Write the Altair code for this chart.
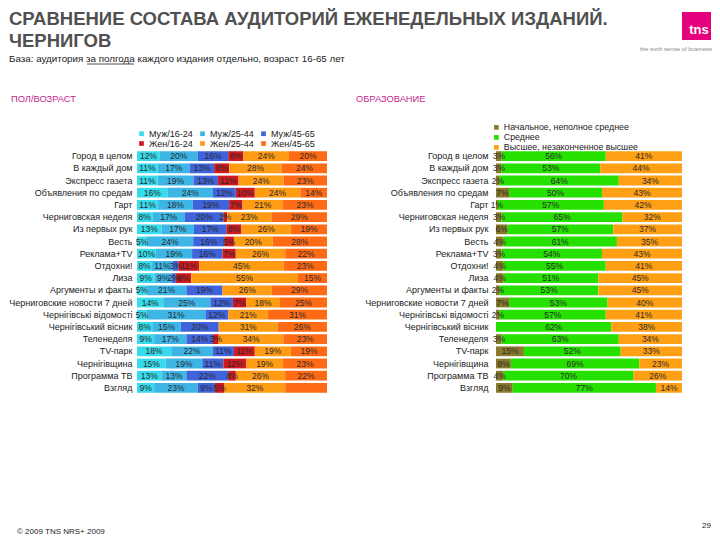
import altair as alt
import pandas as pd

rows = ["Город в целом", "В каждый дом", "Экспресс газета", "Объявления по средам", "Гарт",
        "Черниговская неделя", "Из первых рук", "Весть", "Реклама+TV", "Отдохни!", "Лиза",
        "Аргументы и факты", "Черниговские новости 7 дней", "Чернігівські відомості",
        "Чернігівський вісник", "Теленеделя", "TV-парк", "Чернігівщина", "Программа ТВ", "Взгляд"]

sa_names = ["Муж/16-24", "Муж/25-44", "Муж/45-65", "Жен/16-24", "Жен/25-44", "Жен/45-65"]
sa_colors = ["#36dcec", "#3db6e6", "#3f63da", "#d01a1f", "#ff9c14", "#ff6a14"]
m1624 = [12, 11, 11, 16, 11, 8, 13, 5, 10, 8, 9, 5, 14, 5, 8, 9, 18, 15, 13, 9]
m2544 = [20, 17, 19, 24, 18, 17, 17, 24, 19, 11, 9, 21, 25, 31, 15, 17, 22, 19, 13, 23]
m4565 = [16, 13, 13, 12, 19, 20, 17, 16, 16, 3, 2, 19, 12, 12, 20, 14, 11, 11, 22, 9]
f1624 = [8, 8, 11, 10, 7, 2, 8, 5, 7, 11, 8, 0, 7, 0, 0, 3, 11, 12, 4, 5]
f2544 = [24, 28, 24, 24, 21, 23, 26, 20, 26, 45, 55, 26, 18, 21, 31, 34, 19, 19, 26, 32]
f4565 = [20, 24, 23, 14, 23, 29, 19, 28, 22, 23, 15, 29, 25, 31, 26, 23, 19, 23, 22, 22]
sa_hidden = [("Взгляд", "Жен/45-65")]

edu_names = ["Начальное, неполное среднее", "Среднее", "Высшее, незаконченное высшее"]
edu_colors = ["#8a7a2c", "#26e000", "#ffa014"]
edu_low = [3, 3, 2, 7, 1, 3, 6, 4, 3, 4, 4, 2, 7, 2, 0, 3, 15, 8, 4, 9]
edu_mid = [56, 53, 64, 50, 57, 65, 57, 61, 54, 55, 51, 53, 53, 57, 62, 63, 52, 69, 70, 77]
edu_high = [41, 44, 34, 43, 42, 32, 37, 35, 43, 41, 45, 45, 40, 41, 38, 34, 33, 23, 26, 14]

FONT = "Liberation Sans"


def long_table(series_lists, names, hidden):
    recs = []
    for i, r in enumerate(rows):
        for k, (nm, vals) in enumerate(zip(names, series_lists)):
            v = vals[i]
            recs.append(dict(row=r, series=nm, order=k, value=v,
                             show=bool(v > 0 and (r, nm) not in hidden)))
    return pd.DataFrame(recs)


def panel(df, names, colors, legend, label_pad):
    base = (alt.Chart(df)
            .transform_joinaggregate(total="sum(value)", groupby=["row"])
            .transform_window(cum="sum(value)", sort=[alt.SortField("order", order="ascending")],
                              groupby=["row"], frame=[None, 0])
            .transform_calculate(x0="(datum.cum - datum.value) / datum.total",
                                 x1="datum.cum / datum.total",
                                 xm="(datum.cum - datum.value / 2) / datum.total",
                                 label="datum.value + '%'"))
    xs = alt.Scale(domain=[0, 1], nice=False, zero=True)
    y = alt.Y("row:N", sort=rows,
              scale=alt.Scale(paddingInner=0.2, paddingOuter=0.1),
              axis=alt.Axis(title=None, ticks=False, domain=False, labelFontSize=9,
                            labelColor="#222222", labelPadding=label_pad, labelLimit=300,
                            labelFont=FONT))
    bars = base.mark_bar(strokeWidth=0).encode(
        x=alt.X("x0:Q", scale=xs, axis=None),
        x2="x1:Q",
        y=y,
        color=alt.Color("series:N", scale=alt.Scale(domain=names, range=colors), legend=legend),
    )
    texts = base.transform_filter("datum.show").mark_text(
        fontSize=8.5, color="#2a2a2a", font=FONT).encode(
        x=alt.X("xm:Q", scale=xs, axis=None),
        y=alt.Y("row:N", sort=rows),
        text="label:N",
    )
    return bars, texts


dummy = pd.DataFrame({"a": [0]})


def txt(s, x, y, size, color="#222222", weight="normal", align="left", baseline="middle"):
    return alt.Chart(dummy).mark_text(fontSize=size, color=color, fontWeight=weight, align=align,
                                      baseline=baseline, font=FONT).encode(
        x=alt.value(x), y=alt.value(y), text=alt.value(s))


sa_df = long_table([m1624, m2544, m4565, f1624, f2544, f4565], sa_names, sa_hidden)
edu_df = long_table([edu_low, edu_mid, edu_high], edu_names, [])

LW, RW, H = 190, 186, 244

sa_legend = alt.Legend(title=None, orient="none", legendX=0, legendY=-21, direction="horizontal",
                       columns=3, symbolType="square", symbolSize=22, symbolStrokeWidth=0,
                       labelFontSize=9, labelOffset=3, columnPadding=5, rowPadding=-1,
                       labelColor="#222222", labelFont=FONT, padding=0)
edu_legend = alt.Legend(title=None, orient="none", legendX=-4, legendY=-27, direction="vertical",
                        columns=1, symbolType="square", symbolSize=22, symbolStrokeWidth=0,
                        labelFontSize=8.8, labelOffset=3, rowPadding=-2,
                        labelColor="#222222", labelFont=FONT, padding=0)

lb, lt = panel(sa_df, sa_names, sa_colors, sa_legend, 5)
rb, rt = panel(edu_df, edu_names, edu_colors, edu_legend, 8)

overlays = [
    txt("СРАВНЕНИЕ СОСТАВА АУДИТОРИЙ ЕЖЕНЕДЕЛЬНЫХ ИЗДАНИЙ.", -128, -125, 18.5, "#505050", "bold",
        baseline="alphabetic"),
    txt("ЧЕРНИГОВ", -128, -103, 18.5, "#505050", "bold", baseline="alphabetic"),
    txt("База: аудитория за полгода каждого издания отдельно, возраст 16-65 лет", -128, -91, 9.8),
    alt.Chart(dummy).mark_rule(color="#222222", strokeWidth=0.8).encode(
        x=alt.value(-50), x2=alt.value(-3), y=alt.value(-86)),
    txt("ПОЛ/ВОЗРАСТ", -126, -51, 9.3, "#c4258e"),
    txt("ОБРАЗОВАНИЕ", 219, -51, 9.3, "#c4258e"),
    alt.Chart(dummy).mark_rect(color="#e5007d").encode(
        x=alt.value(545), x2=alt.value(574), y=alt.value(-138), y2=alt.value(-110)),
    txt("tns", 562, -120, 13, "#ffffff", "bold", align="center"),
    txt("the sixth sense of business", 575, -101, 6, "#8a8a8a", align="right"),
    txt("© 2009 TNS  NRS+ 2009", -120, 382, 8),
    txt("29", 574, 376, 8, align="right"),
]

left = alt.layer(lb, lt, *overlays).properties(width=LW, height=H)
right = alt.layer(rb, rt).properties(width=RW, height=H)

chart = (alt.hconcat(left, right, spacing=169, bounds="flush")
         .resolve_scale(color="independent")
         .properties(padding={"top": 2, "left": 0, "right": 0, "bottom": 0})
         .configure(font=FONT)
         .configure_view(stroke=None))

chart.save("out.html", embed_options={"renderer": "svg", "actions": False})
